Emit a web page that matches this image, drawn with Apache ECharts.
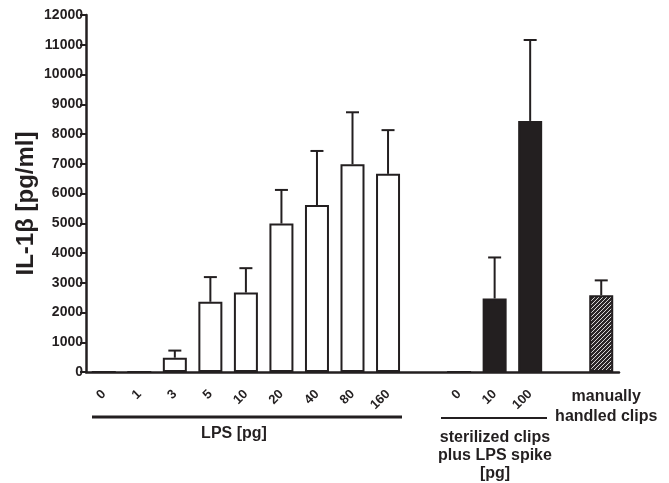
<!DOCTYPE html>
<html>
<head>
<meta charset="utf-8">
<title>IL-1β</title>
<script src="https://cdn.jsdelivr.net/npm/echarts@6/dist/echarts.min.js"></script>
<style>
  html, body { margin: 0; padding: 0; background: #fff; }
  #chart { width: 669px; height: 483px; }
</style>
</head>
<body>
<div id="chart"></div>
<script>
// categories on the x axis ('' = empty gap slot)
const categories = ['0', '1', '3', '5', '10', '20', '40', '80', '160', '', '0', '10', '100', '', 'manually\nhandled clips'];

// LPS standard series (mean / mean + SD)
const lpsValues = [0, 0, 480, 2360, 2670, 4990, 5610, 6980, 6660];
const lpsUpper = [0, 0, 720, 3190, 3490, 6120, 7430, 8730, 8130];

// sterilized clips plus LPS spike
const spikeValues = [0, 2470, 8440];
const spikeUpper = [0, 3850, 11160];

// manually handled clips
const manualValues = [2580];
const manualUpper = [3080];

// y axis
const yTicks = { min: 0, max: 12000, interval: 1000 };

const ink = '#231f20';
const font = "'Liberation Sans', Arial, Helvetica, sans-serif";

// hatch pattern for the manual bar
const hatch = document.createElement('canvas');
hatch.width = 4;
hatch.height = 4;
const hctx = hatch.getContext('2d');
hctx.fillStyle = '#2b2728';
hctx.fillRect(0, 0, 4, 4);
hctx.fillStyle = '#d8d8d8';
for (let x = 0; x < 4; x++) {
  for (let y = 0; y < 4; y++) {
    if ((x + y) % 4 === 3) hctx.fillRect(x, y, 1, 1);
  }
}

// build bar data + error bar data
const barData = [];
const errData = [];
categories.forEach(() => barData.push('-'));

lpsValues.forEach((v, i) => {
  barData[i] = { value: v, itemStyle: { color: '#fff' } };
  if (lpsUpper[i] > v) errData.push([i, v, lpsUpper[i]]);
});
spikeValues.forEach((v, i) => {
  const idx = 10 + i;
  barData[idx] = { value: v, itemStyle: { color: ink } };
  if (spikeUpper[i] > v) errData.push([idx, v, spikeUpper[i]]);
});
manualValues.forEach((v, i) => {
  const idx = 14 + i;
  barData[idx] = { value: v, itemStyle: { color: { image: hatch, repeat: 'repeat' } } };
  if (manualUpper[i] > v) errData.push([idx, v, manualUpper[i]]);
});

const chart = echarts.init(document.getElementById('chart'), null, { renderer: 'canvas' });

const option = {
  animation: false,
  backgroundColor: '#fff',
  textStyle: { fontFamily: font, color: ink },
  grid: { left: 86, right: 50, top: 15, bottom: 111, outerBoundsMode: 'none' },
  xAxis: [
    {
      type: 'category',
      data: categories,
      axisLine: { lineStyle: { color: ink, width: 2.5 } },
      axisTick: { alignWithLabel: true, interval: 0, length: 6, lineStyle: { color: ink, width: 2 } },
      axisLabel: {
        interval: 0,
        rotate: 45,
        margin: 20,
        fontSize: 13,
        fontWeight: 'bold',
        color: ink,
        fontFamily: font,
        formatter: (v) => (v.indexOf('\n') >= 0 ? '' : v)
      }
    },
    {
      // unrotated label for the last category
      type: 'category',
      data: categories,
      position: 'bottom',
      axisLine: { show: false },
      axisTick: { show: false },
      axisLabel: {
        interval: 0,
        margin: 15,
        fontSize: 16,
        lineHeight: 20,
        fontWeight: 'bold',
        color: ink,
        fontFamily: font,
        padding: [0, 0, 0, 10],
        formatter: (v) => (v.indexOf('\n') >= 0 ? v : '')
      }
    }
  ],
  yAxis: {
    type: 'value',
    min: yTicks.min,
    max: yTicks.max,
    interval: yTicks.interval,
    name: 'IL-1β [pg/ml]',
    nameLocation: 'middle',
    nameGap: 48,
    nameMoveOverlap: false,
    nameTextStyle: { fontSize: 24, fontWeight: 'bold', color: ink, fontFamily: font, padding: [0, 20, 0, 0] },
    splitLine: { show: false },
    axisLine: { show: true, lineStyle: { color: ink, width: 2.5 } },
    axisTick: { show: true, length: 6, lineStyle: { color: ink, width: 2 } },
    axisLabel: {
      fontSize: 14,
      fontWeight: 'bold',
      color: ink,
      fontFamily: font,
      margin: 3,
      formatter: (v) => String(v)
    }
  },
  series: [
    {
      type: 'bar',
      barWidth: 24,
      data: barData,
      itemStyle: { borderColor: ink, borderWidth: 2 },
      z: 2
    },
    {
      type: 'custom',
      data: errData,
      z: 3,
      renderItem: (params, api) => {
        const base = api.coord([api.value(0), api.value(1)]);
        const top = api.coord([api.value(0), api.value(2)]);
        const st = { stroke: ink, lineWidth: 2 };
        return {
          type: 'group',
          children: [
            { type: 'line', shape: { x1: top[0], y1: base[1], x2: top[0], y2: top[1] }, style: st },
            { type: 'line', shape: { x1: top[0] - 6.5, y1: top[1], x2: top[0] + 6.5, y2: top[1] }, style: st }
          ]
        };
      }
    }
  ],
  // group brackets and captions
  graphic: [
    { type: 'line', shape: { x1: 92, y1: 417, x2: 402, y2: 417 }, style: { stroke: ink, lineWidth: 3 } },
    { type: 'text', x: 234, y: 434, style: { text: 'LPS [pg]', font: 'bold 16px ' + font, fill: ink, align: 'center', verticalAlign: 'middle' } },
    { type: 'line', shape: { x1: 441, y1: 418, x2: 547, y2: 418 }, style: { stroke: ink, lineWidth: 2 } },
    {
      type: 'text', x: 495, y: 428,
      style: { text: 'sterilized clips\nplus LPS spike\n[pg]', font: 'bold 16px ' + font, lineHeight: 18.3, fill: ink, align: 'center', verticalAlign: 'top' }
    }
  ]
};

chart.setOption(option);
</script>
</body>
</html>
